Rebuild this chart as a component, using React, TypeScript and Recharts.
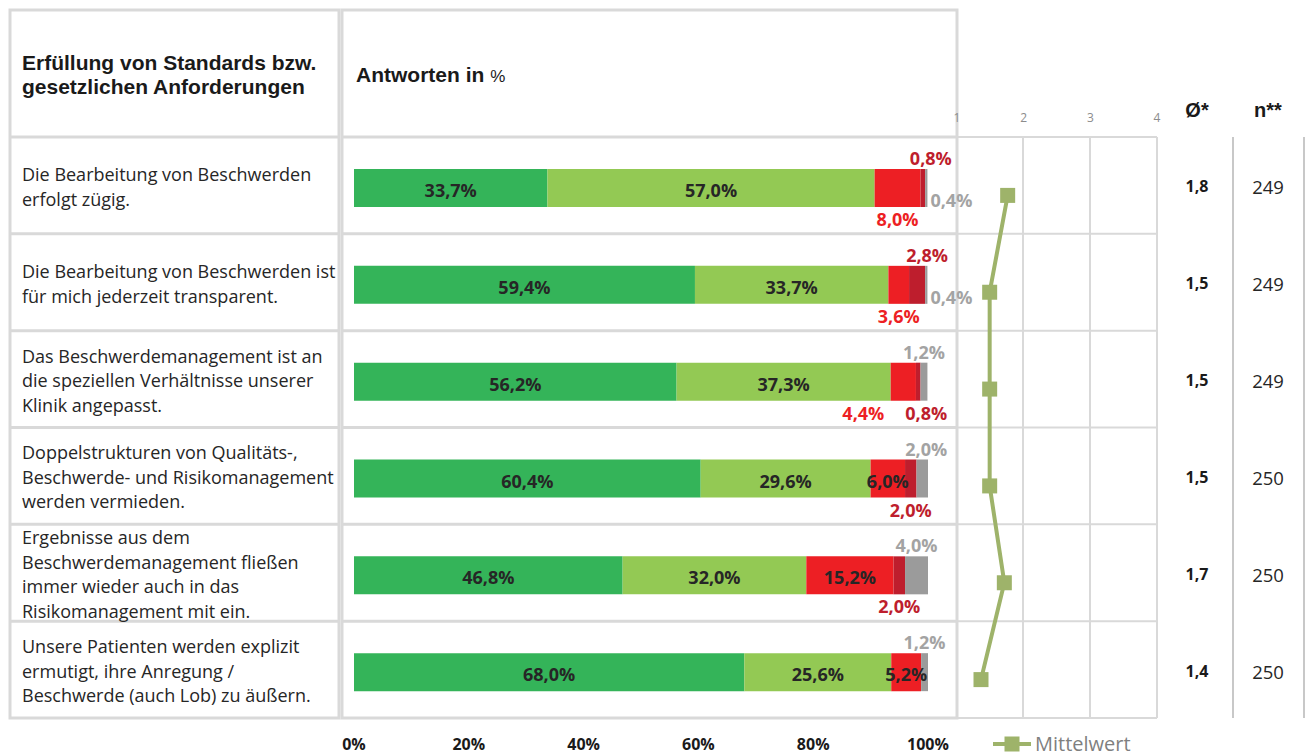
import React from 'react';
import { BarChart, Bar, LineChart, Line, XAxis, YAxis } from 'recharts';

const categories = [
  'Die Bearbeitung von Beschwerden\nerfolgt zügig.',
  'Die Bearbeitung von Beschwerden ist\nfür mich jederzeit transparent.',
  'Das Beschwerdemanagement ist an\ndie speziellen Verhältnisse unserer\nKlinik angepasst.',
  'Doppelstrukturen von Qualitäts-,\nBeschwerde- und Risikomanagement\nwerden vermieden.',
  'Ergebnisse aus dem\nBeschwerdemanagement fließen\nimmer wieder auch in das\nRisikomanagement mit ein.',
  'Unsere Patienten werden explizit\nermutigt, ihre Anregung /\nBeschwerde (auch Lob) zu äußern.',
];

const trifftVoll = [33.7, 59.4, 56.2, 60.4, 46.8, 68.0];
const trifftEher = [57.0, 33.7, 37.3, 29.6, 32.0, 25.6];
const eherNicht = [8.0, 3.6, 4.4, 6.0, 15.2, 5.2];
const garNicht = [0.8, 2.8, 0.8, 2.0, 2.0, 0];
const keineAngabe = [0.4, 0.4, 1.2, 2.0, 4.0, 1.2];

const means = [1.76, 1.49, 1.49, 1.49, 1.71, 1.36];
const meanText = ['1,8', '1,5', '1,5', '1,5', '1,7', '1,4'];
const counts = [249, 249, 249, 250, 250, 250];

const pctTicks = [0, 20, 40, 60, 80, 100];
const meanTicks = [1, 2, 3, 4];

const data = categories.map((name, i) => ({
  name,
  voll: trifftVoll[i],
  eher: trifftEher[i],
  eherNicht: eherNicht[i],
  nicht: garNicht[i],
  keine: keineAngabe[i],
  mean: means[i],
}));

const COLORS = {
  voll: '#34B459',
  eher: '#93C954',
  eherNicht: '#ED1F24',
  nicht: '#BE1E2D',
  keine: '#9B9B9B',
};

const LABEL_COLORS: Record<string, string> = {
  inside: '#262626',
  eherNicht: '#ED1F24',
  nicht: '#BE1E2D',
  keine: '#A3A3A3',
};

type Place = { pos: 'inside' | 'above' | 'below' | 'right'; dx?: number };

// where each value label sits relative to its segment
const placements: Record<string, Place[]> = {
  voll: Array(6).fill({ pos: 'inside' }),
  eher: Array(6).fill({ pos: 'inside' }),
  eherNicht: [
    { pos: 'below' },
    { pos: 'below' },
    { pos: 'below', dx: -40 },
    { pos: 'inside' },
    { pos: 'inside' },
    { pos: 'inside' },
  ],
  nicht: [
    { pos: 'above', dx: 8 },
    { pos: 'above', dx: 10 },
    { pos: 'below', dx: 8 },
    { pos: 'below' },
    { pos: 'below' },
    { pos: 'below' },
  ],
  keine: [
    { pos: 'right' },
    { pos: 'right' },
    { pos: 'above' },
    { pos: 'above', dx: 4 },
    { pos: 'above' },
    { pos: 'above' },
  ],
};

const HUMAN = '"Open Sans", "Noto Sans", sans-serif';
const ARIAL = '"Liberation Sans", Arial, sans-serif';
const fmt = (v: number) => v.toFixed(1).replace('.', ',') + '%';

const makeLabel = (key: string) => (props: any) => {
  const vb = props.viewBox || props;
  const { x, y, width, height } = vb;
  const { index } = props;
  const value = (data[index] as any)[key];
  if (!value) return null;
  const p = placements[key][index];
  const dx = p.dx || 0;
  let tx = x + width / 2 + dx;
  let ty = y + height / 2 + 2;
  let anchor: 'middle' | 'start' = 'middle';
  let fill = LABEL_COLORS.inside;
  if (p.pos === 'above') {
    ty = y - 11;
    fill = LABEL_COLORS[key];
  } else if (p.pos === 'below') {
    ty = y + height + 12;
    fill = LABEL_COLORS[key];
  } else if (p.pos === 'right') {
    tx = x + width + 3;
    ty = y + height / 2 + 12;
    anchor = 'start';
    fill = LABEL_COLORS[key];
  }
  return (
    <text
      x={tx}
      y={ty}
      textAnchor={anchor}
      dominantBaseline="central"
      fontFamily={HUMAN}
      fontWeight={700}
      fontSize={18}
      fill={fill}
    >
      {fmt(value)}
    </text>
  );
};

const CategoryTick = (props: any) => {
  const { y, payload } = props;
  const lines = String(payload.value).split('\n');
  const lh = 24.5;
  const start = y - 2 - ((lines.length - 1) * lh) / 2;
  return (
    <text x={12} y={start} fontFamily={HUMAN} fontSize={18} fill="#262626" dominantBaseline="central">
      {lines.map((l, i) => (
        <tspan key={i} x={12} y={start + i * lh}>
          {l}
        </tspan>
      ))}
    </text>
  );
};

const SquareDot = (props: any) => {
  const { cx, cy, index } = props;
  return <rect key={`dot-${index}`} x={cx - 7.5} y={cy - 7.5} width={15} height={15} fill="#9EB36A" />;
};

const ROW_TOP = 137;
const ROW_H = 96.83;
const GRID = '#D9D9D9';

const App: React.FC = () => {
  const rowLines = [0, 1, 2, 3, 4, 5, 6].map((i) => ROW_TOP + i * ROW_H);
  return (
    <div style={{ position: 'absolute', left: 0, top: 0, width: 1309, height: 756, background: '#fff', fontFamily: HUMAN }}>
      <svg width={1309} height={756} style={{ position: 'absolute', left: 0, top: 0 }}>
        <rect x={10} y={10} width={329} height={708} fill="none" stroke={GRID} strokeWidth={3} />
        <rect x={342} y={10} width={615} height={708} fill="none" stroke={GRID} strokeWidth={3} />
        {rowLines.slice(0, 6).map((y, i) => (
          <g key={i}>
            <line x1={10} x2={339} y1={y} y2={y} stroke={GRID} strokeWidth={3} />
            <line x1={342} x2={957} y1={y} y2={y} stroke={GRID} strokeWidth={3} />
          </g>
        ))}
        {rowLines.map((y, i) => (
          <line key={`m${i}`} x1={957} x2={1157} y1={y} y2={y} stroke={GRID} strokeWidth={2} />
        ))}
        {[1023, 1090, 1157].map((x) => (
          <line key={x} x1={x} x2={x} y1={ROW_TOP} y2={718} stroke={GRID} strokeWidth={2} />
        ))}
        {[1233, 1304].map((x) => (
          <line key={x} x1={x} x2={x} y1={ROW_TOP} y2={718} stroke="#C8C8C8" strokeWidth={2} />
        ))}
      </svg>

      <div
        style={{
          position: 'absolute',
          left: 22,
          top: 51,
          fontFamily: ARIAL,
          fontWeight: 700,
          fontSize: 21,
          lineHeight: '24px',
          color: '#1a1a1a',
          whiteSpace: 'pre',
        }}
      >
        {'Erfüllung von Standards bzw.\ngesetzlichen Anforderungen'}
      </div>
      <div
        style={{
          position: 'absolute',
          left: 356,
          top: 63,
          fontFamily: ARIAL,
          fontWeight: 700,
          fontSize: 21,
          lineHeight: '24px',
          color: '#1a1a1a',
        }}
      >
        Antworten in <span style={{ fontWeight: 400, fontSize: 17 }}>%</span>
      </div>
      {[
        { t: 'Ø*', x: 1197 },
        { t: 'n**', x: 1268 },
      ].map((h) => (
        <div
          key={h.t}
          style={{
            position: 'absolute',
            left: h.x,
            top: 110,
            transform: 'translate(-50%, -50%)',
            fontFamily: ARIAL,
            fontWeight: 700,
            fontSize: 20,
            color: '#1a1a1a',
          }}
        >
          {h.t}
        </div>
      ))}

      <div style={{ position: 'absolute', left: 10, top: 100 }}>
        <BarChart
          width={990}
          height={661}
          data={data}
          layout="vertical"
          margin={{ top: 40, right: 72, bottom: 0, left: 0 }}
          barSize={38}
        >
          <XAxis
            type="number"
            domain={[0, 100]}
            ticks={pctTicks}
            tickFormatter={(v) => `${v}%`}
            axisLine={false}
            tickLine={false}
            tickMargin={12}
            height={40}
            interval={0}
            tick={{ fontSize: 16, fontWeight: 700, fill: '#1a1a1a', fontFamily: HUMAN }}
          />
          <YAxis type="category" dataKey="name" width={344} axisLine={false} tickLine={false} tick={<CategoryTick />} interval={0} />
          <Bar dataKey="voll" stackId="a" fill={COLORS.voll} isAnimationActive={false} label={makeLabel('voll')} />
          <Bar dataKey="eher" stackId="a" fill={COLORS.eher} isAnimationActive={false} label={makeLabel('eher')} />
          <Bar dataKey="eherNicht" stackId="a" fill={COLORS.eherNicht} isAnimationActive={false} label={makeLabel('eherNicht')} />
          <Bar dataKey="nicht" stackId="a" fill={COLORS.nicht} isAnimationActive={false} label={makeLabel('nicht')} />
          <Bar dataKey="keine" stackId="a" fill={COLORS.keine} isAnimationActive={false} label={makeLabel('keine')} />
        </BarChart>
      </div>

      <div style={{ position: 'absolute', left: 937, top: 97 }}>
        <LineChart width={240} height={660} data={data} layout="vertical" margin={{ top: 20, right: 20, bottom: 29, left: 20 }}>
          <XAxis
            type="number"
            orientation="top"
            domain={[1, 4]}
            ticks={meanTicks}
            axisLine={false}
            tickLine={false}
            tickMargin={19}
            interval={0}
            tick={{ fontSize: 12, fill: '#8C8C8C', fontFamily: HUMAN }}
          />
          <YAxis type="category" dataKey="name" hide padding={{ top: 48.4, bottom: 48.4 }} />
          <Line
            dataKey="mean"
            type="linear"
            stroke="#9EB36A"
            strokeWidth={4}
            dot={<SquareDot />}
            isAnimationActive={false}
          />
        </LineChart>
      </div>

      {meanText.map((m, i) => (
        <div
          key={`m${i}`}
          style={{
            position: 'absolute',
            left: 1197,
            top: ROW_TOP + (i + 0.5) * ROW_H + 1,
            transform: 'translate(-50%, -50%)',
            fontWeight: 700,
            fontSize: 16,
            color: '#1a1a1a',
          }}
        >
          {m}
        </div>
      ))}
      {counts.map((c, i) => (
        <div
          key={`n${i}`}
          style={{
            position: 'absolute',
            left: 1268,
            top: ROW_TOP + (i + 0.5) * ROW_H + 1,
            transform: 'translate(-50%, -50%)',
            fontSize: 18.5,
            color: '#262626',
          }}
        >
          {c}
        </div>
      ))}

      <div style={{ position: 'absolute', left: 993, top: 732, display: 'flex', alignItems: 'center' }}>
        <svg width={40} height={24}>
          <line x1={0} x2={38} y1={12} y2={12} stroke="#9EB36A" strokeWidth={4} />
          <rect x={11.5} y={4.5} width={15} height={15} fill="#9EB36A" />
        </svg>
        <span style={{ fontSize: 20, color: '#7F7F7F', marginLeft: 2, lineHeight: '24px' }}>Mittelwert</span>
      </div>
    </div>
  );
};

export default App;
